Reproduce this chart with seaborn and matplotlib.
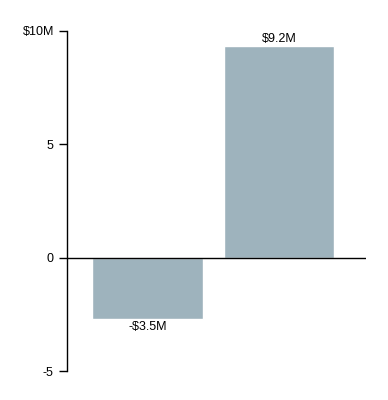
import matplotlib
matplotlib.use("Agg")
import matplotlib.pyplot as plt
import seaborn as sns
import pandas as pd

categories = ["A", "B"]
values = [-2.7, 9.35]
labels = ["-$3.5M", "$9.2M"]
yticks = [-5, 0, 5, 10]
ytick_labels = ["-5", "0", "5", "$10M"]

sns.set_style("white")
plt.rcParams['font.family'] = ['Liberation Sans', 'DejaVu Sans']

df = pd.DataFrame({"cat": categories, "val": values})

fig = plt.figure(figsize=(3.88, 4.0), dpi=100, facecolor="white")
ax = fig.add_axes([67/388, 29/400, 299/388, 340/400])
sns.barplot(data=df, x="cat", y="val", color="#9eb3bd", saturation=1, width=0.84, ax=ax)
ax.set_xlim(-0.61, 1.66)
ax.set_ylim(-5, 10)
ax.axhline(0, color="black", lw=1)
ax.set_yticks(yticks)
ax.set_yticklabels(ytick_labels, fontsize=9, color="black")
ax.set_xticks([])
ax.set_xlabel("")
ax.set_ylabel("")
for s in ["top", "right", "bottom"]:
    ax.spines[s].set_visible(False)
ax.spines["left"].set_color("black")
ax.spines["left"].set_linewidth(1)
ax.tick_params(axis="y", left=True, length=6, width=1, color="black", pad=3.5)
for i, (v, lab) in enumerate(zip(values, labels)):
    if v >= 0:
        ax.text(i, v + 0.05, lab, ha="center", va="bottom", fontsize=9, color="black")
    else:
        ax.text(i, v - 0.1, lab, ha="center", va="top", fontsize=9, color="black")
fig.savefig("out.png", dpi=100, facecolor="white")
